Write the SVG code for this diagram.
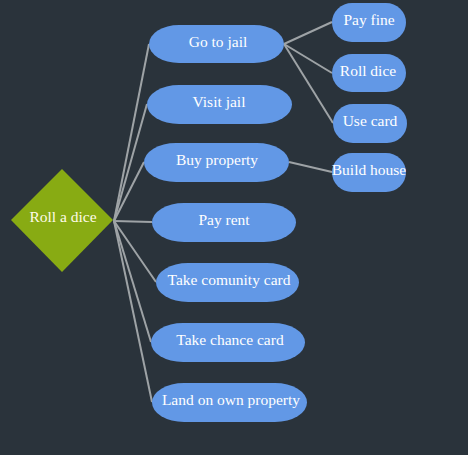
<svg xmlns="http://www.w3.org/2000/svg" width="468" height="455" viewBox="0 0 468 455">
<style>
.n{fill:#6298e6}
.s{fill:#6298e6}
.t{font-family:'Liberation Serif','Times New Roman',serif;font-size:15.5px;fill:#ffffff;text-anchor:middle}
.c line{stroke:#9ea3a6;stroke-width:2}
</style>
<rect width="468" height="455" fill="#2a333b"/>
<g class="c" id="connectors">
<line x1="114" y1="221" x2="149" y2="44"/>
<line x1="114" y1="221" x2="147" y2="104"/>
<line x1="114" y1="221" x2="144" y2="162"/>
<line x1="114" y1="221" x2="152" y2="222"/>
<line x1="114" y1="221" x2="156" y2="282"/>
<line x1="114" y1="221" x2="151" y2="342"/>
<line x1="114" y1="221" x2="152" y2="402"/>
<line x1="284" y1="44" x2="332" y2="22"/>
<line x1="284" y1="44" x2="332" y2="73"/>
<line x1="284" y1="44" x2="333" y2="123"/>
<line x1="289" y1="162" x2="332" y2="172"/>
</g>
<g id="roll"><polygon points="62,169 113,220 62,272 11,220" fill="#88ab13"/><text class="t" x="63" y="222" style="fill:#fffbe8">Roll a dice</text></g>
<g id="gotojail"><rect class="n" x="149" y="25" width="135" height="38" rx="30" ry="19"/><text class="t" x="218" y="47">Go to jail</text></g>
<g id="visitjail"><rect class="n" x="147" y="85" width="145" height="39" rx="32" ry="19.5"/><text class="t" x="219" y="107">Visit jail</text></g>
<g id="buyproperty"><rect class="n" x="144" y="143" width="145" height="39" rx="32" ry="19.5"/><text class="t" x="217" y="165">Buy property</text></g>
<g id="payrent"><rect class="n" x="152" y="203" width="144" height="39" rx="32" ry="19.5"/><text class="t" x="224" y="225">Pay rent</text></g>
<g id="comunity"><rect class="n" x="156" y="263" width="143" height="39" rx="32" ry="19.5"/><text class="t" x="229" y="285">Take comunity card</text></g>
<g id="chance"><rect class="n" x="151" y="323" width="154" height="39" rx="32" ry="19.5"/><text class="t" x="230" y="345">Take chance card</text></g>
<g id="landown"><rect class="n" x="152" y="383" width="155" height="39" rx="32" ry="19.5"/><text class="t" x="231" y="405">Land on own property</text></g>
<g id="payfine"><rect class="s" x="332" y="3" width="74" height="39" rx="20" ry="19.5"/><text class="t" x="369" y="25">Pay fine</text></g>
<g id="rolldice"><rect class="s" x="332" y="54" width="74" height="38" rx="20" ry="19"/><text class="t" x="368" y="76">Roll dice</text></g>
<g id="usecard"><rect class="s" x="333" y="104" width="74" height="39" rx="20" ry="19.5"/><text class="t" x="370" y="126">Use card</text></g>
<g id="buildhouse"><rect class="s" x="332" y="153" width="74" height="39" rx="20" ry="19.5"/><text class="t" x="369" y="175">Build house</text></g>
</svg>
